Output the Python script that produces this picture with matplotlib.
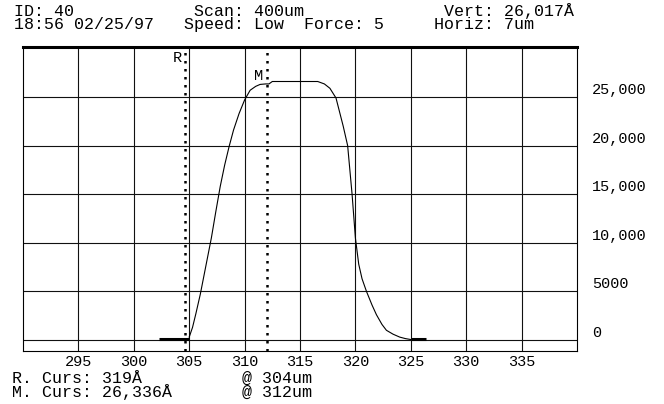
import matplotlib.pyplot as plt
import numpy as np

# profile scan (um vs Angstrom)
scan_x = [305.0, 305.3, 305.6, 306.0, 306.5, 307.0, 307.4, 307.8, 308.2, 308.6,
          309.0, 309.5, 310.0, 310.5, 311.0, 311.4, 311.9, 312.2, 312.5, 313.5,
          314.5, 315.5, 316.6, 317.2, 317.7, 318.25, 318.9, 319.3, 319.7, 320.0,
          320.3, 320.6, 321.0, 321.5, 321.9, 322.4, 322.8, 323.4, 324.0, 324.5, 325.0]
scan_y = [300, 1300, 2700, 4700, 7600, 10500, 13200, 15800, 18000, 19900,
          21600, 23300, 24700, 25700, 26100, 26300, 26350, 26350, 26600, 26600,
          26600, 26600, 26600, 26350, 25900, 24900, 22000, 20000, 15000, 10500,
          7800, 6300, 5000, 3600, 2600, 1600, 1000, 600, 300, 150, 50]

# heavy baseline sections
base_left = [302.3, 305.0]
base_right = [325.0, 326.4]
base_level = [100, 100]

x_ticks = [295, 300, 305, 310, 315, 320, 325, 330, 335]
y_grid = [0, 5000, 10000, 15000, 20000, 25000]
y_labels = ["0", "5000", "10,000", "15,000", "20,000", "25,000"]

r_curs = 304.6
m_curs = 312.0

header = ("ID: 40            Scan: 400um              Vert: 26,017Å\n"
          "18:56 02/25/97   Speed: Low  Force: 5     Horiz: 7um")
footer = ("R. Curs: 319Å          @ 304um\n"
          "M. Curs: 26,336Å       @ 312um")

mono = "Liberation Mono"
W, H = 664, 404

fig = plt.figure(figsize=(W / 100, H / 100), dpi=100)
L, R, T, B = 23, 577, 47, 351
ax = fig.add_axes([L / W, 1 - B / H, (R - L) / W, (B - T) / H])
ax.set_xlim(290, 340)
ax.set_ylim(-1130, 30150)

for x in x_ticks:
    ax.axvline(x, color="#111111", lw=0.8, zorder=1)
for y in y_grid:
    ax.axhline(y, color="#111111", lw=0.8, zorder=1)

ax.plot(scan_x, scan_y, color="black", lw=0.8, zorder=3)
ax.plot(base_left, base_level, color="black", lw=2.2, zorder=3, solid_capstyle="butt")
ax.plot(base_right, base_level, color="black", lw=2.2, zorder=3, solid_capstyle="butt")

# cursors
for xc in [r_curs, m_curs]:
    ax.axvline(xc, color="black", lw=1.8, linestyle=(0, (1, 2.2)), dash_capstyle="butt", zorder=4)
ax.text(r_curs - 0.3, 29700, "R", fontsize=11, family=mono, ha="right", va="top")
ax.text(m_curs - 0.3, 27900, "M", fontsize=11, family=mono, ha="right", va="top")

ax.set_xticks(x_ticks)
ax.set_xticklabels([str(v) for v in x_ticks], fontsize=11, family=mono)
ax.set_yticks([])
ax.tick_params(axis="x", length=0, pad=3)

for y, lab in zip(y_grid, y_labels):
    ax.annotate(lab, xy=(1, y), xycoords=("axes fraction", "data"),
                xytext=(15, 7), textcoords="offset pixels",
                fontsize=11, family=mono, ha="left", va="center")

for side in ["left", "right", "bottom"]:
    ax.spines[side].set_linewidth(0.8)
ax.spines["top"].set_linewidth(2.2)

fig.text(14 / W, 1 - 17.5 / H, header, fontsize=12, family=mono,
         ha="left", va="center", linespacing=0.82)
fig.text(12 / W, 1 - 386 / H, footer, fontsize=12, family=mono,
         ha="left", va="center", linespacing=0.82)

fig.savefig("out.png", dpi=100)
